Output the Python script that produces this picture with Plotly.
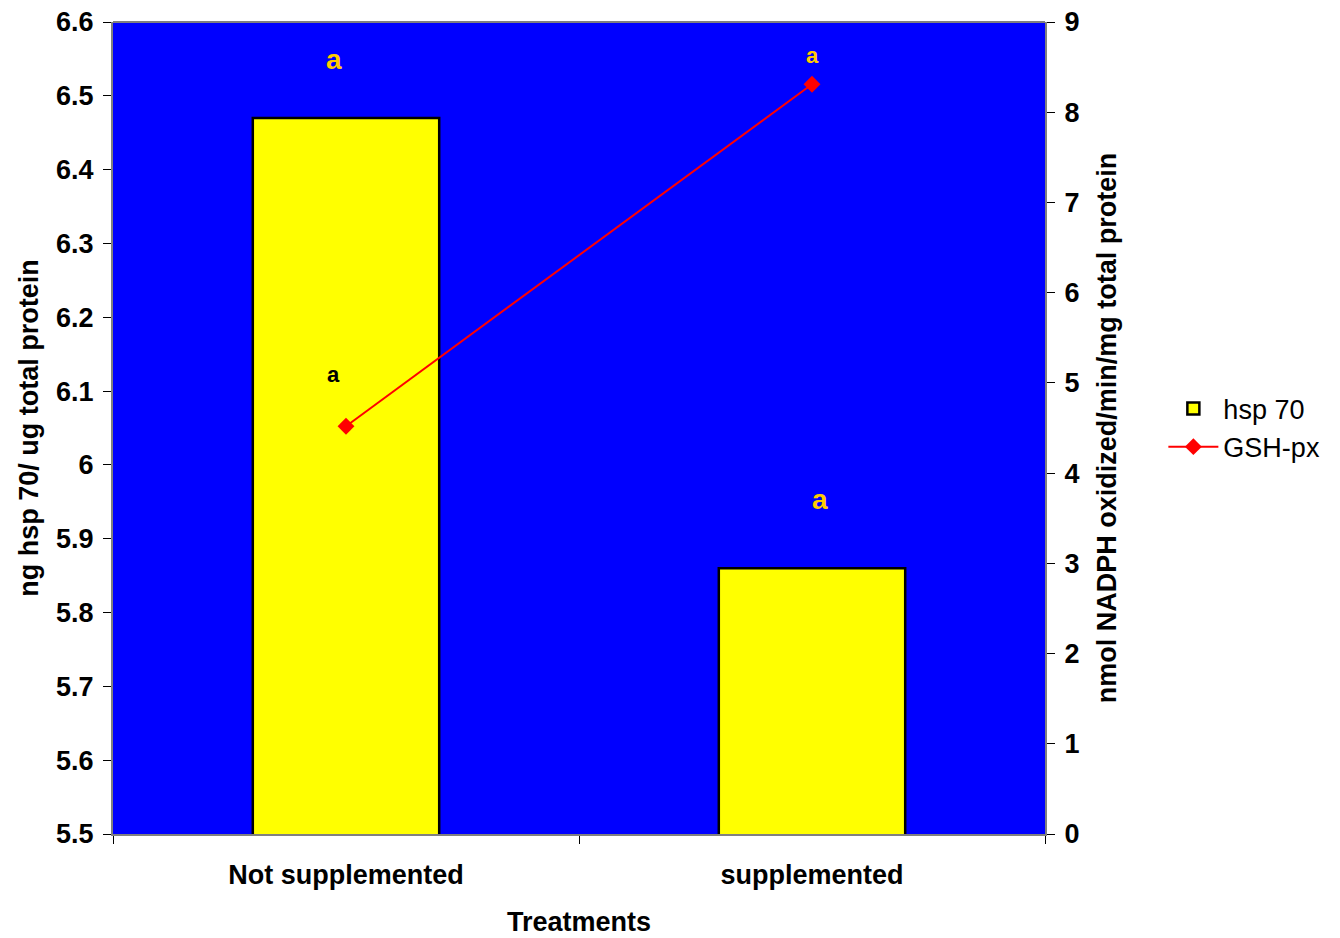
import plotly.graph_objects as go

# Treatment groups and measured values
treatments = ["Not supplemented", "supplemented"]
hsp70 = [6.47, 5.86]          # ng hsp 70 / ug total protein (left axis)
gsh_px = [4.52, 8.31]         # nmol NADPH oxidized/min/mg total protein (right axis)

# Significance letters: (x category position, left-axis y, text, colour, size)
letters_x = [-0.025, 1.0, -0.027, 1.018]
letters_y = [6.549, 6.554, 6.123, 5.953]
letters_color = ["#FFCC00", "#FFCC00", "#000000", "#FFCC00"]
letters_size = [28, 22, 22, 28]

FONT = "Liberation Sans, Arial, sans-serif"
FS = 27

fig = go.Figure()
fig.add_trace(go.Bar(
    x=treatments, y=hsp70, name="hsp 70", width=0.4,
    marker=dict(color="#FFFF00", line=dict(color="#000000", width=2.5)),
    yaxis="y",
))
fig.add_trace(go.Scatter(
    x=treatments, y=gsh_px, name="GSH-px", mode="lines+markers",
    line=dict(color="#FF0000", width=2),
    marker=dict(symbol="diamond", size=13, color="#FF0000"),
    yaxis="y2",
))

for xv, yv, c, s in zip(letters_x, letters_y, letters_color, letters_size):
    fig.add_annotation(x=xv, y=yv, xref="x", yref="y", text="<b>a</b>",
                       showarrow=False, font=dict(family=FONT, size=s, color=c))

fig.update_layout(
    width=1340, height=938,
    margin=dict(l=113, r=295, t=22, b=104, autoexpand=False),
    paper_bgcolor="white", plot_bgcolor="#0000FF",
    font=dict(family=FONT, color="black"),
    showlegend=True,
    legend=dict(x=1.127, y=0.5, xanchor="left", yanchor="middle",
                font=dict(size=FS, family=FONT), bgcolor="rgba(0,0,0,0)",
                itemwidth=50),
    xaxis=dict(
        type="category", range=[-0.5, 1.5],
        tickson="boundaries", ticks="outside", ticklen=8, tickcolor="black",
        ticklabelstandoff=16,
        showline=True, linecolor="#808080", linewidth=2, mirror=False,
        showgrid=False, zeroline=False,
        tickfont=dict(size=FS, family=FONT, weight="bold"),
        title=dict(text="<b>Treatments</b>", font=dict(size=FS, family=FONT), standoff=23),
        automargin=False,
    ),
    yaxis=dict(
        range=[5.5, 6.6], dtick=0.1, tickformat="~g",
        ticks="outside", ticklen=8, tickcolor="black",
        ticklabelstandoff=4,
        showline=True, linecolor="#808080", linewidth=2,
        showgrid=False, zeroline=False,
        tickfont=dict(size=FS, family=FONT, weight="bold"),
        title=dict(text="<b>ng hsp 70/ ug total protein</b>", font=dict(size=FS, family=FONT), standoff=10),
        automargin=False,
    ),
    yaxis2=dict(
        range=[0, 9], dtick=1, overlaying="y", side="right",
        ticks="outside", ticklen=8, tickcolor="black",
        ticklabelstandoff=4,
        showline=True, linecolor="#808080", linewidth=2,
        showgrid=False, zeroline=False,
        tickfont=dict(size=FS, family=FONT, weight="bold"),
        title=dict(text="<b>nmol NADPH oxidized/min/mg total protein</b>", font=dict(size=FS, family=FONT), standoff=19),
        automargin=False,
    ),
)

# Top border of the plotting area
fig.add_shape(type="line", xref="paper", yref="paper", x0=0, x1=1, y0=1, y1=1,
              line=dict(color="#808080", width=2))

fig.write_html("out.html")
